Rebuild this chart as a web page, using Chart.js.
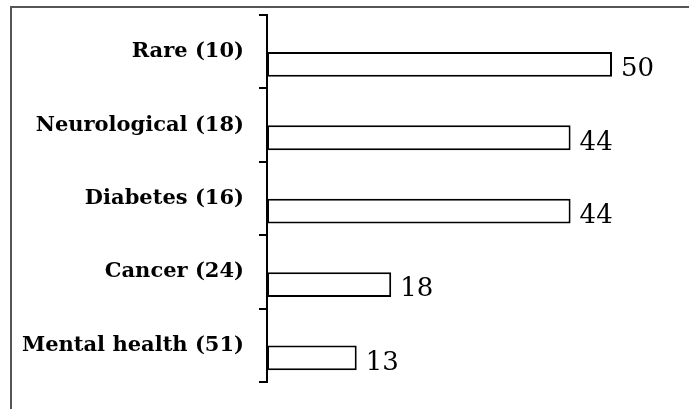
<!DOCTYPE html>
<html>
<head>
<meta charset="utf-8">
<script src="https://cdn.jsdelivr.net/npm/chart.js@4.4.1/dist/chart.umd.min.js"></script>
<style>
    html, body { margin: 0; padding: 0; background: #fff; }
    #wrap { position: relative; width: 689px; height: 409px; }
    #frame {
        position: absolute; left: 10px; top: 6px; right: -10px; bottom: -10px;
        border-top: 2px solid #555; border-left: 2px solid #555;
        pointer-events: none;
    }
</style>
</head>
<body>
<div id="wrap">
    <canvas id="chart" width="689" height="409"></canvas>
    <div id="frame"></div>
</div>
<script>
// chart data
const categories = ['Rare (10)', 'Neurological (18)', 'Diabetes (16)', 'Cancer (24)', 'Mental health (51)'];
const values = [50, 44, 44, 18, 13];
const xMax = 60;

// draws the number to the right of each bar
const valueLabels = {
    id: 'valueLabels',
    afterDatasetsDraw(chart) {
        const ctx = chart.ctx;
        const meta = chart.getDatasetMeta(1);
        ctx.save();
        ctx.font = '26px "DejaVu Serif"';
        ctx.fillStyle = '#000';
        ctx.textAlign = 'left';
        ctx.textBaseline = 'middle';
        meta.data.forEach((bar, i) => {
            ctx.fillText(String(values[i]), bar.x + 9, bar.y + 5);
        });
        ctx.restore();
    }
};

const ctx = document.getElementById('chart').getContext('2d');
new Chart(ctx, {
    type: 'bar',
    data: {
        labels: categories,
        datasets: [
            // empty slot so the bar sits in the lower half of each band
            { label: '', data: categories.map(() => null) },
            {
                label: 'Count',
                data: values,
                backgroundColor: '#fff',
                borderColor: '#000',
                borderWidth: 2,
                borderSkipped: false
            }
        ]
    },
    options: {
        indexAxis: 'y',
        responsive: false,
        animation: false,
        categoryPercentage: 0.69,
        barPercentage: 0.98,
        layout: { padding: { top: 15, bottom: 27, right: 8, left: 0 } },
        plugins: {
            legend: { display: false },
            tooltip: { enabled: false }
        },
        scales: {
            x: {
                display: false,
                min: 0,
                max: xMax
            },
            y: {
                afterFit(scale) {
                    scale.width = 267;
                    scale.paddingTop = 0;
                    scale.paddingBottom = 0;
                },
                border: { display: true, color: '#000', width: 2 },
                grid: {
                    offset: true,
                    drawOnChartArea: false,
                    drawTicks: true,
                    tickLength: 8,
                    color: '#000',
                    lineWidth: 2
                },
                ticks: {
                    color: '#000',
                    padding: 15,
                    font: { family: 'DejaVu Serif', weight: 'bold', size: 21 }
                }
            }
        }
    },
    plugins: [valueLabels]
});
</script>
</body>
</html>
